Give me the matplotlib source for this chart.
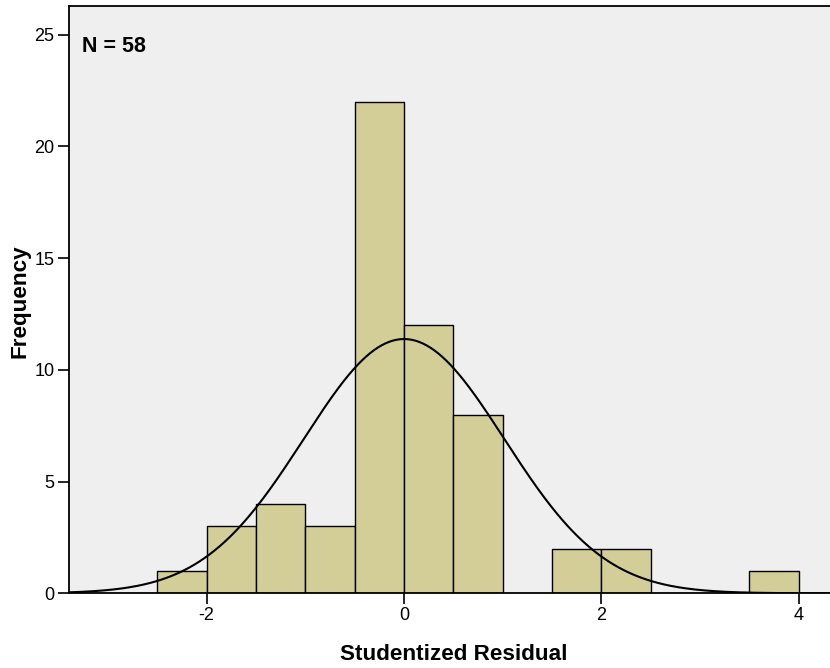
import numpy as np
import matplotlib
matplotlib.use("Agg")
import matplotlib.pyplot as plt

plt.rcParams['font.family'] = ['Liberation Sans', 'DejaVu Sans']

# Data
bin_edges = [-2.5, -2.0, -1.5, -1.0, -0.5, 0.0, 0.5, 1.0, 1.5, 2.0, 2.5, 3.0, 3.5, 4.0]
counts = [1, 3, 4, 3, 22, 12, 8, 0, 2, 2, 0, 0, 1]
n_total = 58
fit_mean = 0.0
fit_sd = 1.017
x_ticks = [-2, 0, 2, 4]
y_ticks = [0, 5, 10, 15, 20, 25]

fig = plt.figure(figsize=(8.30, 6.68), dpi=100)
ax = fig.add_axes([68.5 / 830, 1 - 593.3 / 668, 1 - 68.5 / 830, (593.3 - 5.5) / 668])
ax.set_facecolor('#EFEFEF')

edges = np.array(bin_edges)
widths = np.diff(edges)
for left, w, c in zip(edges[:-1], widths, counts):
    if c > 0:
        ax.bar(left, c, width=w, align='edge', color='#D3CE97',
               edgecolor='black', linewidth=1.0, zorder=2)

xmin, xmax = -3.40, 4.316
xs = np.linspace(xmin, xmax, 600)
bw = widths[0]
ys = n_total * bw / (fit_sd * np.sqrt(2 * np.pi)) * np.exp(-0.5 * ((xs - fit_mean) / fit_sd) ** 2)
ax.plot(xs, ys, color='black', linewidth=1.5, zorder=3)

ax.set_xlim(xmin, xmax)
ax.set_ylim(0, 26.3)
ax.set_xticks(x_ticks)
ax.set_yticks(y_ticks)
ax.set_xticklabels([str(t) for t in x_ticks])
ax.set_yticklabels([str(t) for t in y_ticks])
ax.tick_params(direction='out', length=8, width=1.2, labelsize=13, pad=2, colors='black')

for s in ['left', 'bottom', 'top']:
    ax.spines[s].set_linewidth(1.3)
    ax.spines[s].set_color('black')
ax.spines['right'].set_visible(False)

ax.set_xlabel('Studentized Residual', fontsize=16.2, fontweight='bold', va='center')
ax.set_ylabel('Frequency', fontsize=16.2, fontweight='bold', va='center')
ax.xaxis.set_label_coords((454 - 68.5) / 761.5, (593.3 - 655) / 587.8)
ax.yaxis.set_label_coords((20 - 68.5) / 761.5, (593.3 - 301) / 587.8)
ax.text(0.0174, 0.948, 'N = %d' % n_total, transform=ax.transAxes, fontsize=15.5,
        fontweight='bold', va='top', ha='left')

fig.savefig('out.png', dpi=100)
